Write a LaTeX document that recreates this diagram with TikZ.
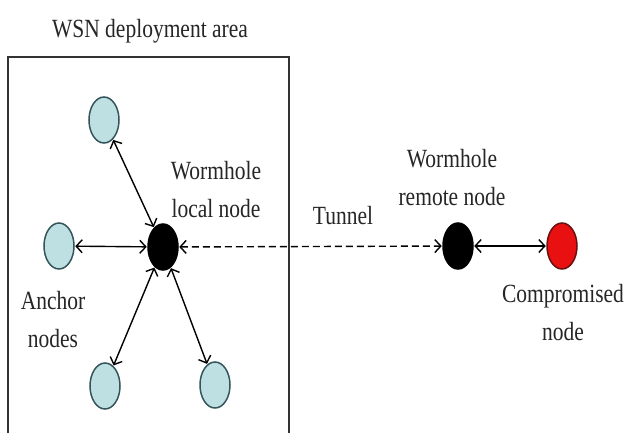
\documentclass[tikz,border=0pt]{standalone}
\usepackage{fontspec}
\setmainfont{Liberation Serif}
\usetikzlibrary{shapes.geometric,arrows.meta}
\definecolor{anchorfill}{HTML}{BEE0E3}
\definecolor{anchorline}{HTML}{35555A}
\definecolor{compfill}{HTML}{E81010}
\definecolor{compline}{HTML}{6A1010}
\newcommand{\lbl}[1]{\scalebox{1}[1.22]{\begin{tabular}{@{}c@{}}#1\end{tabular}}}
\tikzset{
  sensor/.style={ellipse, minimum width=30pt, minimum height=46pt, inner sep=0pt, line width=1.5pt},
  anchornode/.style={sensor, draw=anchorline, fill=anchorfill},
  wormnode/.style={sensor, draw=black, fill=black},
  compnode/.style={sensor, draw=compline, fill=compfill},
  txt/.style={inner sep=0pt, font=\fontsize{21.5}{30.5}\selectfont, text=black!85},
  link/.style={line width=1.4pt, {Straight Barb[length=6pt,width=13pt]}-{Straight Barb[length=6pt,width=13pt]}, shorten <=0.5pt, shorten >=0.5pt},
  tunnel/.style={link, dashed, dash pattern=on 7pt off 4pt}
}
\begin{document}
\begin{tikzpicture}[x=1pt,y=-1pt]
\useasboundingbox (0,0) rectangle (627,432);
\fill[white] (0,0) rectangle (627,432);
\begin{scope}
\clip (0,0) rectangle (627,432);
\draw[line width=1.6pt, black!80] (8,57) rectangle (289,440);
\end{scope}
\node[txt] (title) at (150,30) {\lbl{WSN deployment area}};
\node[anchornode] (a1) at (104,120) {};
\node[anchornode] (a2) at (59,246) {};
\node[anchornode] (a3) at (105,386) {};
\node[anchornode] (a4) at (215,385) {};
\node[wormnode] (wl) at (163,247) {};
\node[wormnode] (wr) at (458,246) {};
\node[compnode] (cp) at (562,246) {};
\node[txt] (lwl) at (216,191) {\lbl{Wormhole\\local node}};
\node[txt] (ltun) at (343,217) {\lbl{Tunnel}};
\node[txt] (lwr) at (452,179) {\lbl{Wormhole\\remote node}};
\node[txt] (lcp) at (563,314) {\lbl{Compromised\\node}};
\node[txt] (lan) at (53,321) {\lbl{Anchor\\nodes}};
\draw[link] (wl) -- (a1);
\draw[link] (wl) -- (a2);
\draw[link] (wl) -- (a3);
\draw[link] (wl) -- (a4);
\draw[tunnel] (wl) -- (wr);
\draw[link] (wr) -- (cp);
\end{tikzpicture}
\end{document}
